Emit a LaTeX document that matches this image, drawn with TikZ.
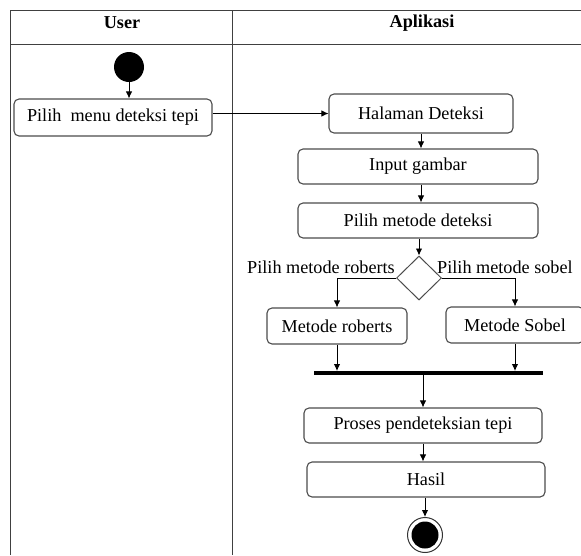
\documentclass[tikz,border=0pt]{standalone}
\usepackage{fontspec}
\setmainfont{Liberation Serif}
\usetikzlibrary{shapes.geometric,arrows.meta}
\begin{document}
\begin{tikzpicture}[x=1pt,y=-1pt,
  font=\fontsize{18.2}{22}\selectfont,
  frameline/.style={draw=black!75,line width=1pt},
  actbox/.style={draw=black!70,line width=1.1pt,rounded corners=5pt,
    rectangle,inner sep=0pt,text=black},
  arr/.style={draw=black,line width=0.9pt,-{Latex[length=7pt,width=6.5pt]}},
  branch/.style={draw=black!70,line width=1pt,diamond,inner sep=0pt,
    minimum width=45pt,minimum height=44pt},
  lbl/.style={inner sep=0pt}]
  \useasboundingbox (0,0) rectangle (581,555);

  % swimlane frame
  \draw[frameline] (581,10.5) -- (10.5,10.5) -- (10.5,555);
  \draw[frameline] (10.5,44) -- (581,44);
  \draw[frameline] (232.5,10.5) -- (232.5,555);
  \node[font=\fontsize{18.2}{22}\selectfont\bfseries] (hUser) at (122,23) {User};
  \node[font=\fontsize{18.2}{22}\selectfont\bfseries] (hApp) at (422,23) {Aplikasi};

  % activities
  \node[circle,fill=black,minimum size=30pt,inner sep=0pt] (start) at (129,67) {};
  \node[actbox,minimum width=198pt,minimum height=37pt] (menu) at (113,117.5) {Pilih~ menu deteksi tepi};
  \node[actbox,minimum width=184pt,minimum height=39pt] (halaman) at (421,113.5) {Halaman Deteksi};
  \node[actbox,minimum width=240pt,minimum height=35pt] (input) at (418,166.5) {Input gambar};
  \node[actbox,minimum width=240pt,minimum height=35pt] (metode) at (418,220.5) {Pilih metode deteksi};
  \node[branch] (dec) at (419,278) {};
  \node[lbl,anchor=base east] (lr) at (395,273) {Pilih metode roberts};
  \node[lbl,anchor=base west] (ls) at (437,273) {Pilih metode sobel};
  \node[actbox,minimum width=140pt,minimum height=36pt] (roberts) at (337,326) {Metode roberts};
  \node[actbox,minimum width=138pt,minimum height=36pt] (sobel) at (515,325) {Metode Sobel};
  \node[rectangle,fill=black,minimum width=229pt,minimum height=3.6pt,inner sep=0pt] (join) at (428.5,373) {};
  \node[actbox,minimum width=238pt,minimum height=35pt] (proses) at (423,425.5) {Proses pendeteksian tepi};
  \node[actbox,minimum width=238pt,minimum height=35pt] (hasil) at (426,479.5) {Hasil};
  \node[circle,draw=black!80,line width=1pt,fill=white,minimum size=35pt,inner sep=0pt] (final) at (425,535) {};
  \fill[black] (final.center) circle (13.5pt);

  % control flow
  \draw[arr] (start.south) -- (start.south |- menu.north);
  \draw[arr] (halaman.west -| menu.east) -- (halaman.west);
  \draw[arr] (halaman.south) -- (halaman.south |- input.north);
  \draw[arr] (input.south -| halaman.south) -- (halaman.south |- metode.north);
  \draw[arr] (metode.south -| dec.north) -- (dec.north);
  \draw[arr] (dec.west) -| (roberts.north);
  \draw[arr] (dec.east) -| (sobel.north);
  \draw[arr] (roberts.south) -- (roberts.south |- join.north);
  \draw[arr] (sobel.south) -- (sobel.south |- join.north);
  \draw[arr] (proses.north |- join.south) -- (proses.north);
  \draw[arr] (proses.south) -- (proses.south |- hasil.north);
  \draw[arr] (final.north |- hasil.south) -- (final.north);
\end{tikzpicture}
\end{document}
